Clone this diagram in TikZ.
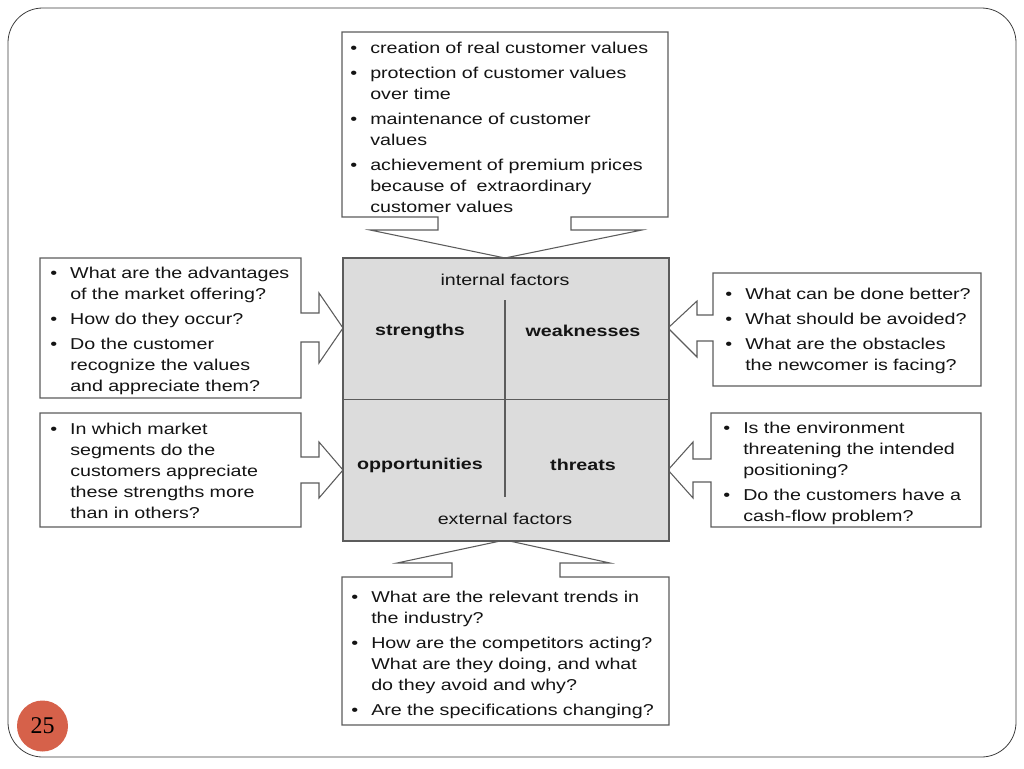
\documentclass[tikz,border=0pt]{standalone}
\usepackage{fontspec}
\setmainfont{Liberation Sans}[FakeStretch=1.25]
\newfontfamily\numfont{Liberation Serif}
\usetikzlibrary{positioning}
\definecolor{boxline}{HTML}{5C5C5C}
\definecolor{gridfill}{HTML}{DCDCDC}
\definecolor{badgefill}{HTML}{D6614A}
\definecolor{txt}{HTML}{141414}
\definecolor{frameline}{HTML}{3C3C3C}
% one bullet point with hanging lines
\newcommand\bpt[1]{\par\parskip=3pt\hangindent=15pt\hangafter=1\noindent
  \strut\makebox[15pt][l]{\textbullet}#1\par}

\begin{document}
\begin{tikzpicture}[x=0.75pt,y=-0.75pt,
  callout/.style={draw=boxline,line width=0.8pt,fill=white,line join=miter},
  swotgrid/.style={draw=boxline,line width=0.8pt,fill=gridfill,inner sep=0pt,
    minimum width=244.5pt,minimum height=212.25pt},
  divider/.style={draw=boxline,line width=0.8pt},
  pointlist/.style={anchor=north west,inner sep=0pt,text width=300pt,align=left,
    text=txt,font=\fontsize{11.8}{15.75}\selectfont},
  factor/.style={inner sep=0pt,text=txt,font=\fontsize{11.8}{14}\selectfont},
  quadrant/.style={inner sep=0pt,text=txt,font=\fontsize{11.8}{14}\selectfont\bfseries},
  badge/.style={circle,fill=badgefill,inner sep=0pt,minimum size=38.25pt,
    font=\numfont\fontsize{18}{20}\selectfont}]
\useasboundingbox (0,0) rectangle (1024,768);

\draw[draw=frameline,line width=0.6pt,rounded corners=26pt] (8,8) rectangle (1016,757);

% callout outlines
\draw[callout] (342,32) -- (668,32) -- (668,217) -- (571,217) -- (571,230) -- (642,230)
  -- (505,258) -- (370,230) -- (438,230) -- (438,217) -- (342,217) -- cycle;
\draw[callout] (40,258) -- (301,258) -- (301,313) -- (319,313) -- (319,293) -- (343,328)
  -- (319,363) -- (319,342) -- (301,342) -- (301,398) -- (40,398) -- cycle;
\draw[callout] (40,413) -- (301,413) -- (301,457) -- (319,457) -- (319,442) -- (343,470)
  -- (319,498) -- (319,483) -- (301,483) -- (301,527) -- (40,527) -- cycle;
\draw[callout] (713,273) -- (981,273) -- (981,386) -- (713,386) -- (713,341) -- (697,341)
  -- (697,357) -- (668,328) -- (697,301) -- (697,315) -- (713,315) -- cycle;
\draw[callout] (711,413) -- (981,413) -- (981,527) -- (711,527) -- (711,482) -- (693,482)
  -- (693,498) -- (668,470) -- (693,442) -- (693,459) -- (711,459) -- cycle;
\draw[callout] (342,577) -- (452,577) -- (452,563) -- (397,563) -- (505,540) -- (610,563)
  -- (560,563) -- (560,577) -- (669,577) -- (669,725) -- (342,725) -- cycle;

% swot square
\node[swotgrid] (swot) at (506,399.5) {};
\draw[divider] (swot.west) -- (swot.east);
\draw[divider] (505,300) -- (505,497);

\node[factor] (internal) at (505,280) {internal factors};
\node[factor] (external) at (505,519) {external factors};
\node[quadrant] (strengths) at (420,331) {strengths};
\node[quadrant] (weaknesses) at (583,331) {weaknesses};
\node[quadrant] (opportunities) at (420,465) {opportunities};
\node[quadrant] (threats) at (583,465) {threats};

% point lists
\node[pointlist] (values) at (350,28.3) {%
  \bpt{creation of real customer values}
  \bpt{protection of customer values\newline over time}
  \bpt{maintenance of customer\newline values}
  \bpt{achievement of premium prices\newline because of~ extraordinary\newline customer values}};
\node[pointlist] (advantages) at (50,253.3) {%
  \bpt{What are the advantages\newline of the market offering?}
  \bpt{How do they occur?}
  \bpt{Do the customer\newline recognize the values\newline and appreciate them?}};
\node[pointlist] (segments) at (50,409.3) {%
  \bpt{In which market\newline segments do the\newline customers appreciate\newline these strengths more\newline than in others?}};
\node[pointlist] (better) at (725,274.3) {%
  \bpt{What can be done better?}
  \bpt{What should be avoided?}
  \bpt{What are the obstacles\newline the newcomer is facing?}};
\node[pointlist] (environment) at (723,408.3) {%
  \bpt{Is the environment\newline threatening the intended\newline positioning?}
  \bpt{Do the customers have a\newline cash-flow problem?}};
\node[pointlist] (trends) at (351,577.3) {%
  \bpt{What are the relevant trends in\newline the industry?}
  \bpt{How are the competitors acting?\newline What are they doing, and what\newline do they avoid and why?}
  \bpt{Are the specifications changing?}};

\node[badge] (pagenum) at (42.5,726) {25};
\end{tikzpicture}
\end{document}
